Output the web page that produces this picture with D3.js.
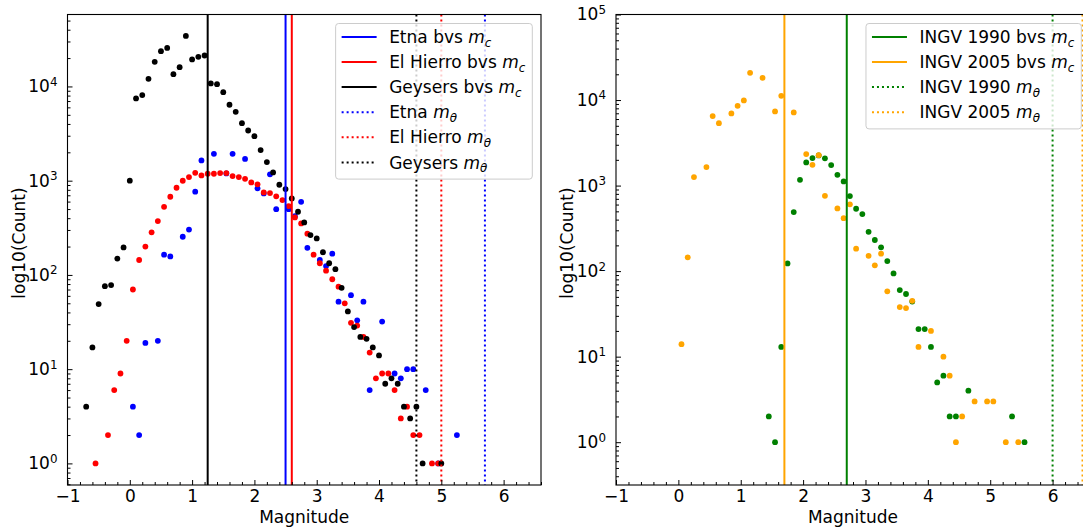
<!DOCTYPE html>
<html>
<head>
<meta charset="utf-8">
<script src="https://cdn.jsdelivr.net/npm/d3@7"></script>
<style>
body { margin: 0; background: #fff; }
text { font-family: "DejaVu Sans", sans-serif; }
</style>
</head>
<body>
<div id="chart"></div>
<script>
// ---- data ----

var xTicks = [-1, 0, 1, 2, 3, 4, 5, 6];

// left panel
var geysersMag = [-0.7,-0.6,-0.5,-0.4,-0.3,-0.2,-0.1,0.0,0.1,0.2,0.3,0.4,0.5,0.6,0.7,0.8,0.9,1.0,1.1,1.2,1.3,1.4,1.5,1.6,1.7,1.8,1.9,2.0,2.1,2.2,2.3,2.4,2.5,2.6,2.7,2.8,2.9,3.0,3.1,3.2,3.3,3.4,3.5,3.6,3.7,3.8,3.9,4.0,4.1,4.2,4.3,4.4,4.5,4.6,4.7,5.0];
var geysersCount = [4,17,49,76,78,149,196,1000,7460,8090,12040,18240,23680,25640,13500,16030,34400,19330,20600,21300,10770,10570,8700,6390,5380,4080,3410,2970,2110,1574,1224,905,815,649,468,361,265,244,174,133,115,73,41,28,22,21,17,14,7,8,7,4,3,4,1,1];

var hierroMag = [-0.55,-0.35,-0.25,-0.15,-0.05,0.05,0.15,0.25,0.35,0.45,0.55,0.65,0.75,0.85,0.95,1.05,1.15,1.25,1.35,1.45,1.55,1.65,1.75,1.85,1.95,2.05,2.15,2.25,2.35,2.45,2.55,2.65,2.75,2.85,2.95,3.05,3.15,3.25,3.35,3.45,3.55,3.65,3.75,3.85,3.95,4.05,4.15,4.25,4.35,4.45,4.55,4.65,4.85,4.95];
var hierroCount = [1,2,6,9,20,70,144,200,283,373,528,675,841,998,1092,1213,1138,1184,1184,1205,1205,1120,1092,1047,959,914,751,739,682,623,538,408,352,274,164,133,111,90,75,50,31,29,22,15,8,9,9,6,3,4,2,2,1,1];

var etnaMag = [0.05,0.15,0.25,0.45,0.55,0.65,0.85,0.95,1.05,1.15,1.35,1.55,1.65,1.85,2.05,2.15,2.25,2.35,2.55,2.65,2.75,2.85,3.05,3.15,3.25,3.35,3.55,3.65,3.75,3.85,4.05,4.25,4.35,4.45,4.55,4.75,4.95,5.25];
var etnaCount = [4,2,19,20,164,157,254,303,764,1641,1928,1195,1928,1700,830,733,1167,499,499,420,597,194,144,124,168,52,61,33,52,6,32,9,8,10,10,6,1,2];

var etnaMc = 2.5, hierroMc = 2.6, geysersMc = 1.25;
var etnaMtheta = 5.7, hierroMtheta = 5.0, geysersMtheta = 4.6;

// right panel
var ingv1990Mag = [1.45,1.55,1.65,1.75,1.85,1.95,2.05,2.15,2.25,2.35,2.45,2.55,2.65,2.75,2.85,2.95,3.05,3.15,3.25,3.35,3.45,3.55,3.65,3.75,3.85,3.95,4.05,4.15,4.25,4.35,4.45,4.65,5.35,5.55];
var ingv1990Count = [2,1,13,123,490,1169,1866,2095,2254,2080,1735,1337,1119,754,536,465,288,231,190,131,94,60,54,44,21,21,13,5,6,2,2,4,2,1];

var ingv2005Mag = [0.05,0.15,0.25,0.45,0.55,0.65,0.85,0.95,1.05,1.15,1.35,1.55,1.65,1.85,2.05,2.15,2.25,2.35,2.55,2.65,2.75,2.85,3.05,3.15,3.25,3.35,3.55,3.65,3.75,3.85,4.05,4.25,4.35,4.45,4.55,4.75,4.95,5.05,5.25,5.45];
var ingv2005Count = [14,145,1257,1644,6490,5370,6970,8550,9890,20780,18170,7360,11190,7160,2333,1750,2270,760,540,416,603,183,151,117,160,58,38,37,45,13,20,10,6,1,2,3,3,3,1,1];

var ingv1990Mc = 2.7, ingv2005Mc = 1.7;
var ingv1990Mtheta = 6.0, ingv2005Mtheta = 6.48;

// ---- set up canvas ----

var width = 1083;
var height = 531;
var plotTop = 14.5;
var plotBottom = 485;
var fontSize = 17;

var svg = d3
    .select("#chart")
    .append("svg")
    .attr("width", width)
    .attr("height", height);

svg.append("rect")
    .attr("width", width)
    .attr("height", height)
    .attr("fill", "white");

function zip(mags, counts) {
    return mags.map(function(m, i) { return {m: m, c: counts[i]}; });
}

function fmtX(d) {
    return d < 0 ? "\u2212" + (-d) : String(d);
}

// legend label: "<name> bvs m_c" or "<name> m_theta"
function labelText(sel, d) {
    sel.append("tspan").text(d.name + (d.bvs ? " bvs " : " "));
    sel.append("tspan").attr("font-style", "italic").text("m");
    sel.append("tspan")
        .attr("font-style", "italic")
        .attr("font-size", "0.7em")
        .attr("dy", "0.3em")
        .text(d.bvs ? "c" : "\u03b8");
}

function drawPanel(p) {
    var g = svg.append("g");

    var x = d3.scaleLinear().domain([-1, 6.6]).range([p.left, p.right]);
    var y = d3.scaleLog().domain(p.yDomain).range([plotBottom, plotTop]);

    var clipId = "clip" + p.id;
    g.append("clipPath")
        .attr("id", clipId)
        .append("rect")
        .attr("x", p.left)
        .attr("y", plotTop)
        .attr("width", p.right - p.left)
        .attr("height", plotBottom - plotTop);

    var plot = g.append("g").attr("clip-path", "url(#" + clipId + ")");

    // scatter points
    p.series.forEach(function(s) {
        plot.append("g")
            .selectAll("circle")
            .data(s.data)
            .enter()
            .append("circle")
            .attr("cx", function(d) { return x(d.m); })
            .attr("cy", function(d) { return y(d.c); })
            .attr("r", 2.9)
            .attr("fill", s.color);
    });

    // vertical lines
    plot.selectAll("line.vline")
        .data(p.lines)
        .enter()
        .append("line")
        .attr("class", "vline")
        .attr("x1", function(d) { return x(d.v); })
        .attr("x2", function(d) { return x(d.v); })
        .attr("y1", plotTop)
        .attr("y2", plotBottom)
        .attr("stroke", function(d) { return d.color; })
        .attr("stroke-width", 2)
        .attr("stroke-dasharray", function(d) { return d.bvs ? null : "2,3"; });

    // x axis (minor then major), ticks pointing in
    var xMinor = d3.range(-1, 6.61, 0.2).filter(function(v) {
        return Math.abs(v - Math.round(v)) > 0.01;
    });
    g.append("g")
        .attr("transform", "translate(0," + plotBottom + ")")
        .call(d3.axisBottom(x).tickValues(xMinor).tickSize(-3).tickFormat(""))
        .call(function(s) { s.select(".domain").remove(); });

    var xAxisG = g.append("g")
        .attr("transform", "translate(0," + plotBottom + ")")
        .call(d3.axisBottom(x).tickValues(xTicks).tickSize(-5).tickPadding(5).tickFormat(fmtX));
    xAxisG.select(".domain").remove();
    xAxisG.selectAll("text")
        .attr("font-size", fontSize)
        .attr("font-family", "DejaVu Sans")
        .attr("fill", "#000");

    // y axis, log
    var lo = Math.floor(Math.log10(p.yDomain[0]));
    var hi = Math.ceil(Math.log10(p.yDomain[1]));
    var yMajor = [];
    var yMinor = [];
    for (var k = lo; k <= hi; k++) {
        var base = Math.pow(10, k);
        if (base >= p.yDomain[0] && base <= p.yDomain[1]) yMajor.push(base);
        for (var m = 2; m <= 9; m++) {
            var v = m * base;
            if (v >= p.yDomain[0] && v <= p.yDomain[1]) yMinor.push(v);
        }
    }

    g.append("g")
        .attr("transform", "translate(" + p.left + ",0)")
        .call(d3.axisLeft(y).tickValues(yMinor).tickSize(-3).tickFormat(""))
        .call(function(s) { s.select(".domain").remove(); });

    var yAxisG = g.append("g")
        .attr("transform", "translate(" + p.left + ",0)")
        .call(d3.axisLeft(y).tickValues(yMajor).tickSize(-5).tickPadding(10));
    yAxisG.select(".domain").remove();
    yAxisG.selectAll(".tick text")
        .attr("font-size", fontSize)
        .attr("font-family", "DejaVu Sans")
        .attr("fill", "#000")
        .each(function(d) {
            var t = d3.select(this);
            t.text("");
            t.append("tspan").text("10");
            t.append("tspan")
                .attr("dy", "-0.55em")
                .attr("font-size", "0.7em")
                .text(Math.round(Math.log10(d)));
        });

    g.selectAll(".tick line").attr("stroke", "#000").attr("stroke-width", 1);

    // frame
    g.append("rect")
        .attr("x", p.left)
        .attr("y", plotTop)
        .attr("width", p.right - p.left)
        .attr("height", plotBottom - plotTop)
        .attr("fill", "none")
        .attr("stroke", "#000")
        .attr("stroke-width", 1.1);

    // axis labels
    g.append("text")
        .attr("x", (p.left + p.right) / 2)
        .attr("y", 523)
        .attr("text-anchor", "middle")
        .attr("font-size", fontSize)
        .text("Magnitude");

    g.append("text")
        .attr("transform", "translate(" + (p.left - 43) + ",243)rotate(-90)")
        .attr("text-anchor", "middle")
        .attr("font-size", fontSize)
        .text("log10(Count)");

    // legend
    var lg = g.append("g");
    var box = lg.append("rect");
    var rowH = 25.1;
    var rows = lg.selectAll("g.row")
        .data(p.lines)
        .enter()
        .append("g")
        .attr("class", "row")
        .attr("transform", function(d, i) { return "translate(0," + (i * rowH) + ")"; });

    rows.append("line")
        .attr("x1", 6)
        .attr("x2", 41)
        .attr("y1", 0)
        .attr("y2", 0)
        .attr("stroke", function(d) { return d.color; })
        .attr("stroke-width", 2)
        .attr("stroke-dasharray", function(d) { return d.bvs ? null : "2,3"; });

    var texts = rows.append("text")
        .attr("x", 53.5)
        .attr("y", 0)
        .attr("dy", "0.36em")
        .attr("font-size", fontSize)
        .each(function(d) { labelText(d3.select(this), d); });

    var maxW = d3.max(texts.nodes(), function(n) { return n.getComputedTextLength(); });
    var boxW = 53.5 + maxW + 7;
    var boxH = (p.lines.length - 1) * rowH + 13.4 + 16.7;

    box.attr("x", 0)
        .attr("y", -13.4)
        .attr("width", boxW)
        .attr("height", boxH)
        .attr("rx", 3)
        .attr("fill", "white")
        .attr("fill-opacity", 0.8)
        .attr("stroke", "#cccccc")
        .attr("stroke-width", 1);

    lg.attr("transform", "translate(" + (p.right - 8.7 - boxW) + "," + (plotTop + 9 + 13.4) + ")");
}

// left panel
drawPanel({
    id: "L",
    left: 67.5,
    right: 541,
    yDomain: [0.59, 58000],
    series: [
        {color: "#0000ff", data: zip(etnaMag, etnaCount)},
        {color: "#ff0000", data: zip(hierroMag, hierroCount)},
        {color: "#000000", data: zip(geysersMag, geysersCount)}
    ],
    lines: [
        {name: "Etna", bvs: true, color: "#0000ff", v: etnaMc},
        {name: "El Hierro", bvs: true, color: "#ff0000", v: hierroMc},
        {name: "Geysers", bvs: true, color: "#000000", v: geysersMc},
        {name: "Etna", bvs: false, color: "#0000ff", v: etnaMtheta},
        {name: "El Hierro", bvs: false, color: "#ff0000", v: hierroMtheta},
        {name: "Geysers", bvs: false, color: "#000000", v: geysersMtheta}
    ]
});

// right panel
drawPanel({
    id: "R",
    left: 616,
    right: 1090,
    yDomain: [0.316, 100000],
    series: [
        {color: "#008000", data: zip(ingv1990Mag, ingv1990Count)},
        {color: "#ffa500", data: zip(ingv2005Mag, ingv2005Count)}
    ],
    lines: [
        {name: "INGV 1990", bvs: true, color: "#008000", v: ingv1990Mc},
        {name: "INGV 2005", bvs: true, color: "#ffa500", v: ingv2005Mc},
        {name: "INGV 1990", bvs: false, color: "#008000", v: ingv1990Mtheta},
        {name: "INGV 2005", bvs: false, color: "#ffa500", v: ingv2005Mtheta}
    ]
});
</script>
</body>
</html>
